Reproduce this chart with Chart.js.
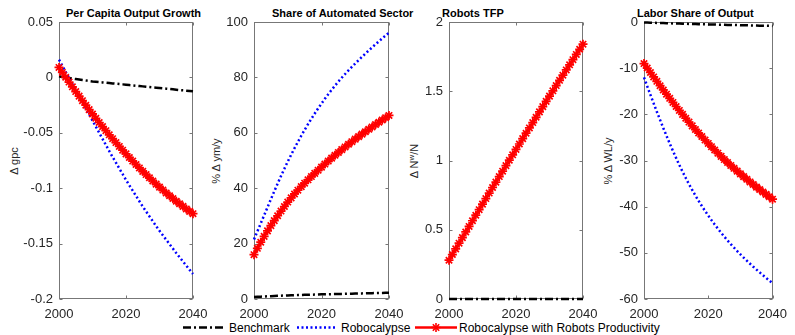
<!DOCTYPE html>
<html>
<head>
<meta charset="utf-8">
<script src="https://cdn.jsdelivr.net/npm/chart.js@4.4.1/dist/chart.umd.min.js"></script>
<style>
  html, body { margin: 0; padding: 0; background: #fff; }
  #wrap { position: relative; width: 795px; height: 335px; overflow: hidden;
          font-family: Arial, "Liberation Sans", Helvetica, sans-serif; color: #262626; }
  #wrap canvas { position: absolute; top: 0; }
  .ttl { position: absolute; top: 7px; font-weight: bold; font-size: 11px; line-height: 13px; color: #000; white-space: nowrap; }
  .ylab { position: absolute; top: 161px; font-size: 11px; line-height: 13px; white-space: nowrap;
          transform: translate(-50%, -50%) rotate(-90deg); }
  .ylab sup { font-size: 8px; }
  .lg { position: absolute; top: 321px; font-size: 12px; line-height: 14px; white-space: nowrap; color: #000; }
  .lgs { position: absolute; top: 321px; }
</style>
</head>
<body>
<div id="wrap">
  <div class="ttl" style="left:66px">Per Capita Output Growth</div>
  <div class="ttl" style="left:272px">Share of Automated Sector</div>
  <div class="ttl" style="left:442px">Robots TFP</div>
  <div class="ttl" style="left:637px">Labor Share of Output</div>

  <div class="ylab" style="left:14px">Δ gpc</div>
  <div class="ylab" style="left:216px">% Δ ym/y</div>
  <div class="ylab" style="left:413px">Δ N<sup>w</sup>/N</div>
  <div class="ylab" style="left:608px">% Δ WL/y</div>

  <svg class="lgs" style="left:183px" width="40" height="14">
    <line x1="0" y1="6.5" x2="40" y2="6.5" stroke="#000" stroke-width="2.5" stroke-dasharray="8 3 2 3"/>
  </svg>
  <div class="lg" style="left:229px">Benchmark</div>
  <svg class="lgs" style="left:297px" width="40" height="14">
    <line x1="0" y1="6.5" x2="40" y2="6.5" stroke="#0000ff" stroke-width="2.5" stroke-dasharray="2 2.5"/>
  </svg>
  <div class="lg" style="left:341px">Robocalypse</div>
  <svg class="lgs" style="left:415px" width="42" height="14">
    <line x1="0" y1="6.5" x2="42" y2="6.5" stroke="#ff0000" stroke-width="2.5"/>
    <g stroke="#ff0000" stroke-width="1.6">
      <line x1="16.5" y1="6.5" x2="25.5" y2="6.5"/><line x1="21" y1="2" x2="21" y2="11"/>
      <line x1="17.8" y1="3.3" x2="24.2" y2="9.7"/><line x1="17.8" y1="9.7" x2="24.2" y2="3.3"/>
    </g>
  </svg>
  <div class="lg" style="left:459px">Robocalypse with Robots Productivity</div>
</div>

<script>
// years on the x axis (annual, 2000-2040)
const years = [
  2000, 2001, 2002, 2003, 2004, 2005, 2006, 2007, 2008, 2009,
  2010, 2011, 2012, 2013, 2014, 2015, 2016, 2017, 2018, 2019,
  2020, 2021, 2022, 2023, 2024, 2025, 2026, 2027, 2028, 2029,
  2030, 2031, 2032, 2033, 2034, 2035, 2036, 2037, 2038, 2039,
  2040
];
const yearTicks = [2000, 2020, 2040];

// Per Capita Output Growth (Δ gpc)
const gpcBench = [
  0.0010, 0.0004, -0.0001, -0.0006, -0.0011, -0.0015, -0.0019, -0.0023, -0.0027, -0.0032,
  -0.0036, -0.0039, -0.0042, -0.0045, -0.0048, -0.0051, -0.0054, -0.0057, -0.0060, -0.0063,
  -0.0066, -0.0069, -0.0072, -0.0075, -0.0078, -0.0081, -0.0084, -0.0087, -0.0090, -0.0093,
  -0.0096, -0.0099, -0.0102, -0.0105, -0.0108, -0.0111, -0.0114, -0.0117, -0.0120, -0.0123,
  -0.0126
];
const gpcRobo = [
  0.0160, 0.0105, 0.0050, -0.0005, -0.0060, -0.0115, -0.0170, -0.0225, -0.0280, -0.0335,
  -0.0390, -0.0445, -0.0500, -0.0555, -0.0610, -0.0665, -0.0718, -0.0770, -0.0822, -0.0874,
  -0.0925, -0.0974, -0.1022, -0.1070, -0.1118, -0.1165, -0.1210, -0.1254, -0.1298, -0.1342,
  -0.1385, -0.1425, -0.1465, -0.1505, -0.1545, -0.1585, -0.1623, -0.1661, -0.1699, -0.1737,
  -0.1775
];
const gpcRoboProd = [
  0.0090, 0.0045, 0.0001, -0.0042, -0.0085, -0.0128, -0.0169, -0.0210, -0.0251, -0.0291,
  -0.0330, -0.0369, -0.0407, -0.0444, -0.0481, -0.0518, -0.0553, -0.0588, -0.0623, -0.0657,
  -0.0690, -0.0723, -0.0755, -0.0786, -0.0817, -0.0848, -0.0877, -0.0906, -0.0935, -0.0963,
  -0.0990, -0.1017, -0.1043, -0.1068, -0.1093, -0.1118, -0.1141, -0.1164, -0.1187, -0.1209,
  -0.1230
];
const gpcTicks = [-0.2, -0.15, -0.1, -0.05, 0, 0.05];

// Share of Automated Sector (% Δ ym/y)
const ymBench = [
  0.70, 0.77, 0.84, 0.90, 0.96, 1.02, 1.08, 1.14, 1.19, 1.24,
  1.29, 1.33, 1.37, 1.41, 1.45, 1.49, 1.53, 1.56, 1.60, 1.63,
  1.67, 1.70, 1.73, 1.76, 1.79, 1.82, 1.85, 1.88, 1.91, 1.94,
  1.97, 2.00, 2.03, 2.06, 2.09, 2.12, 2.15, 2.18, 2.21, 2.24,
  2.27
];
const ymRobo = [
  21.5, 24.4, 27.3, 30.2, 33.1, 36.0, 38.85, 41.65, 44.4, 47.05,
  49.6, 52.05, 54.43, 56.73, 58.93, 61.05, 63.1, 65.08, 66.98, 68.81,
  70.57, 72.27, 73.91, 75.49, 77.01, 78.47, 79.87, 81.22, 82.52, 83.79,
  85.03, 86.24, 87.42, 88.58, 89.72, 90.84, 91.94, 93.02, 94.08, 95.12,
  96.14
];
const ymRoboProd = [
  16.0, 18.3, 20.5, 22.6, 24.6, 26.5, 28.3, 30.05, 31.75, 33.4,
  35.0, 36.5, 37.92, 39.28, 40.58, 41.82, 43.02, 44.2, 45.36, 46.5,
  47.62, 48.72, 49.8, 50.86, 51.9, 52.92, 53.92, 54.9, 55.86, 56.8,
  57.72, 58.62, 59.51, 60.39, 61.26, 62.12, 62.97, 63.81, 64.64, 65.46,
  66.27
];
const ymTicks = [0, 20, 40, 60, 80, 100];

// Robots TFP (Δ N^w/N)
const tfpBench = [
  0, 0, 0, 0, 0, 0, 0, 0, 0, 0,
  0, 0, 0, 0, 0, 0, 0, 0, 0, 0,
  0, 0, 0, 0, 0, 0, 0, 0, 0, 0,
  0, 0, 0, 0, 0, 0, 0, 0, 0, 0,
  0
];
const tfpRoboProd = [
  0.280, 0.321, 0.362, 0.403, 0.443, 0.484, 0.524, 0.565, 0.605, 0.645,
  0.685, 0.725, 0.765, 0.805, 0.844, 0.884, 0.923, 0.963, 1.002, 1.041,
  1.080, 1.119, 1.158, 1.197, 1.235, 1.274, 1.312, 1.351, 1.389, 1.427,
  1.465, 1.503, 1.541, 1.579, 1.616, 1.654, 1.691, 1.728, 1.766, 1.803,
  1.840
];
const tfpTicks = [0, 0.5, 1, 1.5, 2];

// Labor Share of Output (% Δ WL/y)
const wlBench = [
  -0.10, -0.13, -0.15, -0.18, -0.20, -0.22, -0.24, -0.27, -0.29, -0.31,
  -0.33, -0.35, -0.37, -0.39, -0.41, -0.43, -0.45, -0.47, -0.49, -0.50,
  -0.52, -0.54, -0.56, -0.58, -0.59, -0.61, -0.63, -0.64, -0.66, -0.67,
  -0.69, -0.71, -0.72, -0.74, -0.75, -0.77, -0.79, -0.80, -0.82, -0.83,
  -0.85
];
const wlRobo = [
  -12.0, -13.9, -15.78, -17.62, -19.43, -21.21, -22.95, -24.65, -26.31, -27.92,
  -29.48, -30.98, -32.42, -33.80, -35.12, -36.38, -37.59, -38.75, -39.86, -40.92,
  -41.94, -42.92, -43.86, -44.77, -45.65, -46.50, -47.32, -48.11, -48.87, -49.61,
  -50.33, -51.03, -51.71, -52.37, -53.01, -53.63, -54.24, -54.84, -55.43, -56.01,
  -56.58
];
const wlRoboProd = [
  -9.00, -9.97, -10.94, -11.90, -12.85, -13.80, -14.72, -15.63, -16.53, -17.42,
  -18.30, -19.16, -20.01, -20.85, -21.68, -22.50, -23.28, -24.05, -24.81, -25.56,
  -26.30, -27.01, -27.72, -28.42, -29.11, -29.80, -30.44, -31.07, -31.69, -32.30,
  -32.90, -33.49, -34.07, -34.64, -35.20, -35.76, -36.29, -36.82, -37.34, -37.86,
  -38.38
];
const wlTicks = [-60, -50, -40, -30, -20, -10, 0];

// line styles (matlab-like)
const styleBench = { borderColor: '#000000', borderWidth: 2.5, borderDash: [8, 3, 2, 3], pointRadius: 0, order: 2 };
const styleRobo = { borderColor: '#0000ff', borderWidth: 2.5, borderDash: [2, 2.5], pointRadius: 0, order: 1 };
const styleProd = { borderColor: '#ff0000', borderWidth: 2.5, pointStyle: 'star', pointRadius: 4.5,
                    pointBorderWidth: 1.7, pointBorderColor: '#ff0000', pointBackgroundColor: '#ff0000', order: 0 };

const tickFont = { family: 'Arial, "Liberation Sans", Helvetica, sans-serif', size: 13 };
const axisColor = '#777777';

// box around the axes with inward tick marks on all four sides
const boxPlugin = {
  id: 'matlabBox',
  beforeDatasetsDraw(chart) {
    const { ctx, chartArea: a, scales } = chart;
    const L = Math.round(a.left) + 0.5, R = Math.round(a.right) - 0.5;
    const T = Math.round(a.top) + 0.5, B = Math.round(a.bottom) - 0.5;
    ctx.save();
    ctx.strokeStyle = axisColor;
    ctx.lineWidth = 1;
    ctx.strokeRect(L, T, R - L, B - T);
    ctx.beginPath();
    scales.x.ticks.forEach(t => {
      const px = Math.round(scales.x.getPixelForValue(t.value)) + 0.5;
      ctx.moveTo(px, B); ctx.lineTo(px, B - 3);
      ctx.moveTo(px, T); ctx.lineTo(px, T + 3);
    });
    scales.y.ticks.forEach(t => {
      const py = Math.round(scales.y.getPixelForValue(t.value)) + 0.5;
      ctx.moveTo(L, py); ctx.lineTo(L + 3, py);
      ctx.moveTo(R, py); ctx.lineTo(R - 3, py);
    });
    ctx.stroke();
    ctx.restore();
  }
};

function toPoints(values) {
  return years.map((yr, i) => ({ x: yr, y: values[i] }));
}

function makePanel(p) {
  const canvas = document.createElement('canvas');
  canvas.width = p.width;
  canvas.height = 335;
  canvas.style.left = p.left + 'px';
  document.getElementById('wrap').appendChild(canvas);

  new Chart(canvas.getContext('2d'), {
    type: 'line',
    data: {
      datasets: p.series.map(s => Object.assign({ data: toPoints(s.values), clip: false,
                                                 tension: 0, fill: false }, s.style))
    },
    options: {
      responsive: false,
      animation: false,
      devicePixelRatio: 1,
      layout: { padding: { top: 22, right: p.padRight, left: 0, bottom: 0 } },
      plugins: { legend: { display: false }, tooltip: { enabled: false } },
      scales: {
        x: {
          type: 'linear', min: 2000, max: 2040,
          grid: { display: false, drawTicks: false },
          border: { display: false },
          afterBuildTicks: s => { s.ticks = yearTicks.map(v => ({ value: v })); },
          afterFit: s => { s.height = 36; },
          ticks: { padding: 8, color: '#262626', font: tickFont, maxRotation: 0, autoSkip: false,
                   callback: v => String(v) }
        },
        y: {
          type: 'linear', min: p.ticks[0], max: p.ticks[p.ticks.length - 1],
          grid: { display: false, drawTicks: false },
          border: { display: false },
          afterBuildTicks: s => { s.ticks = p.ticks.map(v => ({ value: v })); },
          afterFit: s => { s.width = p.yWidth; },
          ticks: { padding: 6, color: '#262626', font: tickFont, autoSkip: false,
                   callback: v => String(v) }
        }
      }
    },
    plugins: [boxPlugin]
  });
}

const panels = [
  { left: 0, width: 218, yWidth: 59, padRight: 25, ticks: gpcTicks,
    series: [{ values: gpcBench, style: styleBench }, { values: gpcRobo, style: styleRobo },
             { values: gpcRoboProd, style: styleProd }] },
  { left: 200, width: 214, yWidth: 54, padRight: 25, ticks: ymTicks,
    series: [{ values: ymBench, style: styleBench }, { values: ymRobo, style: styleRobo },
             { values: ymRoboProd, style: styleProd }] },
  { left: 395, width: 213, yWidth: 54, padRight: 25, ticks: tfpTicks,
    series: [{ values: tfpBench, style: styleBench }, { values: tfpRoboProd, style: styleProd }] },
  { left: 590, width: 205, yWidth: 54, padRight: 17, ticks: wlTicks,
    series: [{ values: wlBench, style: styleBench }, { values: wlRobo, style: styleRobo },
             { values: wlRoboProd, style: styleProd }] }
];

document.addEventListener('DOMContentLoaded', function () {
  panels.forEach(makePanel);
});
</script>
</body>
</html>
